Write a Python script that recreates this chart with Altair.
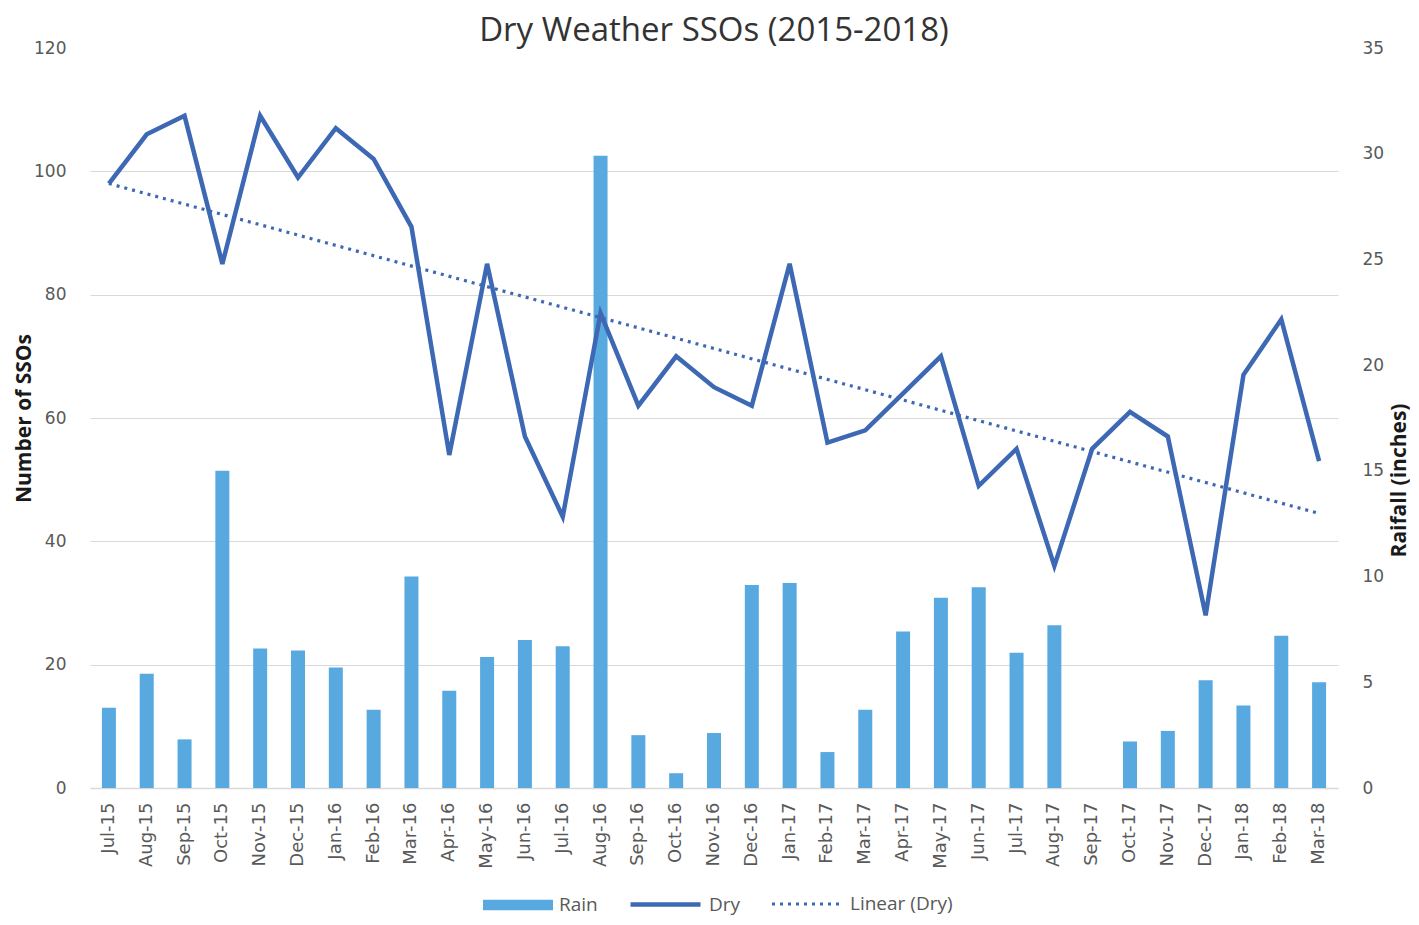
import json
import altair as alt
import pandas as pd

months = ["Jul-15", "Aug-15", "Sep-15", "Oct-15", "Nov-15", "Dec-15",
          "Jan-16", "Feb-16", "Mar-16", "Apr-16", "May-16", "Jun-16",
          "Jul-16", "Aug-16", "Sep-16", "Oct-16", "Nov-16", "Dec-16",
          "Jan-17", "Feb-17", "Mar-17", "Apr-17", "May-17", "Jun-17",
          "Jul-17", "Aug-17", "Sep-17", "Oct-17", "Nov-17", "Dec-17",
          "Jan-18", "Feb-18", "Mar-18"]
dry = [98, 106, 109, 85, 109, 99, 107, 102, 91, 54, 85, 57,
       44, 77, 62, 70, 65, 62, 85, 56, 58, 64, 70, 49,
       55, 36, 55, 61, 57, 28, 67, 76, 53]
rain = [3.8, 5.4, 2.3, 15.0, 6.6, 6.5, 5.7, 3.7, 10.0, 4.6, 6.2, 7.0,
        6.7, 29.9, 2.5, 0.7, 2.6, 9.6, 9.7, 1.7, 3.7, 7.4, 9.0, 9.5,
        6.4, 7.7, 0.0, 2.2, 2.7, 5.1, 3.9, 7.2, 5.0]

df = pd.DataFrame({"month": months, "idx": list(range(len(months))),
                   "dry": dry, "rain": rain})

BAR = "#58A9E0"
LINE = "#3D68B4"
LABEL = "#595959"
GRID = "#D9D9D9"

x_enc = alt.X(
    "month:O", sort=months, scale=alt.Scale(domain=months),
    axis=alt.Axis(title=None, labelAngle=270, labelFont="DejaVu Sans",
                  labelFontSize=18, labelColor=LABEL, labelPadding=14,
                  ticks=False, domainColor=GRID, domainWidth=1.5, grid=False,
                  labelAlign="right", labelBaseline="middle"))

LEG_Y_BAR = 822
LEG_Y_LINE = 819
leg_common = dict(title=None, orient="none", padding=0, labelFont="Open Sans",
                  labelFontSize=19, labelColor=LABEL, labelOffset=6,
                  symbolSize=4900)

bars = alt.Chart().transform_calculate(rain_lbl="'Rain'").mark_bar(size=14).encode(
    x=x_enc,
    y=alt.Y("rain:Q", scale=alt.Scale(domain=[0, 35], nice=False),
            axis=alt.Axis(orient="right", values=list(range(0, 36, 5)),
                          title="Raifall (inches)", titleAngle=270,
                          titleFont="Open Sans", titleFontSize=21,
                          titleFontWeight="bold", titleColor="#1a1a1a",
                          titleX=61, titleY=432, titleBaseline="middle",
                          titleAlign="center",
                          labelFont="DejaVu Sans", labelFontSize=17,
                          labelColor=LABEL, labelPadding=24, ticks=False,
                          domain=False, grid=False)),
    fill=alt.Fill("rain_lbl:N", scale=alt.Scale(domain=["Rain"], range=[BAR]),
                  legend=alt.Legend(legendX=393, legendY=LEG_Y_BAR,
                                    symbolType="M-1,-0.15H1V0.15H-1Z",
                                    symbolStrokeWidth=0, **leg_common)),
)

y_left = alt.Y("dry:Q", scale=alt.Scale(domain=[0, 120], nice=False),
               axis=alt.Axis(orient="left", values=list(range(0, 121, 20)),
                             title="Number of SSOs", titleFont="Open Sans",
                             titleFontSize=21, titleFontWeight="bold",
                             titleColor="#1a1a1a", titleAngle=270,
                             titleX=-66, titleY=370, titleBaseline="middle",
                             titleAlign="center",
                             labelFont="DejaVu Sans", labelFontSize=17,
                             labelColor=LABEL, labelPadding=24, ticks=False,
                             domain=False, grid=True, gridColor=GRID,
                             gridOpacity=alt.condition("datum.value >= 120",
                                                       alt.value(0), alt.value(1))))

line = alt.Chart().transform_calculate(dry_lbl="'Dry'").mark_line(
    strokeWidth=4.5, strokeJoin="miter").encode(
    x=x_enc,
    y=y_left,
    stroke=alt.Stroke("dry_lbl:N", scale=alt.Scale(domain=["Dry"], range=[LINE]),
                      legend=alt.Legend(legendX=538, legendY=LEG_Y_LINE,
                                        symbolType="stroke",
                                        symbolStrokeWidth=4.5, **leg_common)),
)

trend = alt.Chart().transform_regression("idx", "dry", method="linear").transform_calculate(
    month=f"{json.dumps(months)}[datum.idx]",
    trend_lbl="'Linear (Dry)'",
).mark_line(color=LINE, strokeWidth=3.2).encode(
    x=alt.X("month:O", sort=months),
    y=alt.Y("dry:Q"),
    strokeDash=alt.StrokeDash("trend_lbl:N",
                              scale=alt.Scale(domain=["Linear (Dry)"], range=[[3, 5]]),
                              legend=alt.Legend(legendX=680, legendY=LEG_Y_LINE,
                                                symbolType="stroke",
                                                symbolStrokeColor=LINE,
                                                symbolStrokeWidth=3.2,
                                                **leg_common)),
)

chart = alt.layer(bars, alt.layer(line, trend), data=df).resolve_scale(
    y="independent"
).properties(
    width=1248, height=740,
    autosize=alt.AutoSizeParams(type="none"),
    padding={"left": 82, "top": 40, "right": 72, "bottom": 128},
    title=alt.TitleParams("Dry Weather SSOs (2015-2018)", font="Open Sans",
                          fontSize=33, fontWeight="normal", color="#333333",
                          anchor="middle", offset=-9),
).configure_view(stroke=None)

chart.save("out.html", embed_options={"renderer": "svg", "actions": False})
